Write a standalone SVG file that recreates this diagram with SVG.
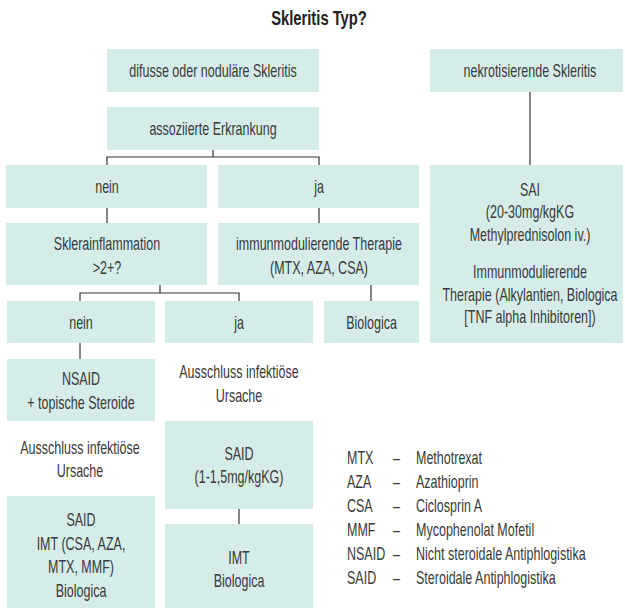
<svg xmlns="http://www.w3.org/2000/svg" width="625" height="608" viewBox="0 0 625 608">
<style>
.b{fill:#d5ece9}
.t{font-family:"Liberation Sans",Arial,sans-serif;font-size:17.5px;fill:#3a3a3a;text-anchor:middle}
.l{font-family:"Liberation Sans",Arial,sans-serif;font-size:17.5px;fill:#3a3a3a;text-anchor:start}
.h{font-family:"Liberation Sans",Arial,sans-serif;font-size:20.5px;font-weight:bold;fill:#222;text-anchor:middle}
.c{stroke:#333;stroke-width:1.2;fill:none}
</style>
<rect width="625" height="608" fill="#fff"/>
<g id="title"><text class="h" transform="translate(319,25) scale(0.72,1)" x="0" y="0">Skleritis Typ?</text></g>

<g id="connectors" class="c">
<path d="M213 150V157M107 165V157H319V165"/>
<path d="M107 208V223M319 208V223"/>
<path d="M160 285V293M80 301V293H239V301"/>
<path d="M371 285V301"/>
<path d="M530 92V165"/>
<path d="M80 343V359"/>
<path d="M239 509V524"/>
</g>

<g id="n-difusse"><rect class="b" x="107" y="49" width="212" height="43"/>
<text class="t" transform="translate(213,0) scale(0.715,1)"><tspan x="0" y="77">difusse oder noduläre Skleritis</tspan></text></g>
<g id="n-nekrot"><rect class="b" x="430" y="49" width="193" height="43"/>
<text class="t" transform="translate(530,0) scale(0.715,1)"><tspan x="0" y="77">nekrotisierende Skleritis</tspan></text></g>
<g id="n-assoz"><rect class="b" x="107" y="107" width="212" height="43"/>
<text class="t" transform="translate(213,0) scale(0.715,1)"><tspan x="0" y="135">assoziierte Erkrankung</tspan></text></g>
<g id="n-nein1"><rect class="b" x="6" y="165" width="201" height="43"/>
<text class="t" transform="translate(107,0) scale(0.715,1)"><tspan x="0" y="193">nein</tspan></text></g>
<g id="n-ja1"><rect class="b" x="218" y="165" width="201" height="43"/>
<text class="t" transform="translate(319,0) scale(0.715,1)"><tspan x="0" y="193">ja</tspan></text></g>
<g id="n-sklera"><rect class="b" x="6" y="223" width="201" height="62"/>
<text class="t" transform="translate(107,0) scale(0.715,1)"><tspan x="0" y="250">Sklerainflammation</tspan><tspan x="0" y="274">&gt;2+?</tspan></text></g>
<g id="n-immun"><rect class="b" x="218" y="223" width="201" height="62"/>
<text class="t" transform="translate(319,0) scale(0.715,1)"><tspan x="0" y="250">immunmodulierende Therapie</tspan><tspan x="0" y="274">(MTX, AZA, CSA)</tspan></text></g>
<g id="n-nein2"><rect class="b" x="7" y="301" width="148" height="42"/>
<text class="t" transform="translate(81,0) scale(0.715,1)"><tspan x="0" y="329">nein</tspan></text></g>
<g id="n-ja2"><rect class="b" x="165" y="301" width="148" height="42"/>
<text class="t" transform="translate(239,0) scale(0.715,1)"><tspan x="0" y="329">ja</tspan></text></g>
<g id="n-biologica"><rect class="b" x="324" y="301" width="95" height="42"/>
<text class="t" transform="translate(371.5,0) scale(0.715,1)"><tspan x="0" y="329">Biologica</tspan></text></g>
<g id="n-sai"><rect class="b" x="430" y="165" width="193" height="178"/>
<text class="t" transform="translate(530,0) scale(0.715,1)"><tspan x="0" y="196">SAI</tspan><tspan x="0" y="218.5">(20-30mg/kgKG</tspan><tspan x="0" y="241">Methylprednisolon iv.)</tspan><tspan x="0" y="278">Immunmodulierende</tspan><tspan x="0" y="301">Therapie (Alkylantien, Biologica</tspan><tspan x="0" y="323.5">[TNF alpha Inhibitoren])</tspan></text></g>
<g id="n-nsaid"><rect class="b" x="7" y="359" width="148" height="62"/>
<text class="t" transform="translate(81,0) scale(0.715,1)"><tspan x="0" y="385">NSAID</tspan><tspan x="0" y="409">+ topische Steroide</tspan></text></g>
<g id="n-ausschluss-r"><text class="t" transform="translate(239,0) scale(0.715,1)"><tspan x="0" y="378">Ausschluss infektiöse</tspan><tspan x="0" y="402">Ursache</tspan></text></g>
<g id="n-ausschluss-l"><text class="t" transform="translate(80,0) scale(0.715,1)"><tspan x="0" y="454">Ausschluss infektiöse</tspan><tspan x="0" y="477">Ursache</tspan></text></g>
<g id="n-said-r"><rect class="b" x="165" y="421" width="148" height="88"/>
<text class="t" transform="translate(239,0) scale(0.715,1)"><tspan x="0" y="460">SAID</tspan><tspan x="0" y="483">(1-1,5mg/kgKG)</tspan></text></g>
<g id="n-imt"><rect class="b" x="165" y="524" width="148" height="84"/>
<text class="t" transform="translate(239,0) scale(0.715,1)"><tspan x="0" y="564">IMT</tspan><tspan x="0" y="587">Biologica</tspan></text></g>
<g id="n-said-l"><rect class="b" x="7" y="496" width="148" height="112"/>
<text class="t" transform="translate(81,0) scale(0.715,1)"><tspan x="0" y="526">SAID</tspan><tspan x="0" y="550">IMT (CSA, AZA,</tspan><tspan x="0" y="573">MTX, MMF)</tspan><tspan x="0" y="597">Biologica</tspan></text></g>

<g id="legend">
<text class="l" transform="translate(347,0) scale(0.715,1)"><tspan x="0" y="464">MTX</tspan><tspan x="0" y="488">AZA</tspan><tspan x="0" y="512">CSA</tspan><tspan x="0" y="536">MMF</tspan><tspan x="0" y="560">NSAID</tspan><tspan x="0" y="584">SAID</tspan></text>
<text class="l" transform="translate(393,0) scale(0.715,1)"><tspan x="0" y="464">–</tspan><tspan x="0" y="488">–</tspan><tspan x="0" y="512">–</tspan><tspan x="0" y="536">–</tspan><tspan x="0" y="560">–</tspan><tspan x="0" y="584">–</tspan></text>
<text class="l" transform="translate(416,0) scale(0.715,1)"><tspan x="0" y="464">Methotrexat</tspan><tspan x="0" y="488">Azathioprin</tspan><tspan x="0" y="512">Ciclosprin A</tspan><tspan x="0" y="536">Mycophenolat Mofetil</tspan><tspan x="0" y="560">Nicht steroidale Antiphlogistika</tspan><tspan x="0" y="584">Steroidale Antiphlogistika</tspan></text>
</g>
</svg>
